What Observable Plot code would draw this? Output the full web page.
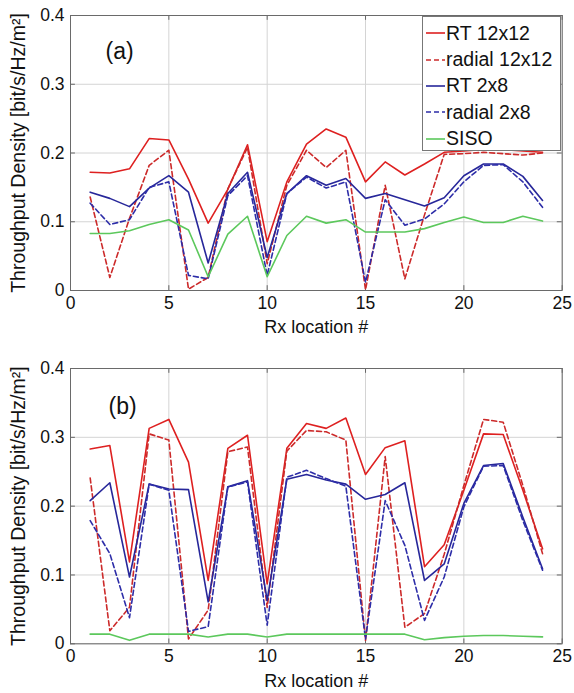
<!DOCTYPE html>
<html>
<head>
<meta charset="utf-8">
<script src="https://cdn.jsdelivr.net/npm/d3@7"></script>
<script src="https://cdn.jsdelivr.net/npm/@observablehq/plot@0.6"></script>
<style>
  body { margin: 0; background: #fff; font-family: "Liberation Sans", Arial, sans-serif; }
  #wrap { position: relative; width: 574px; height: 693px; overflow: hidden; }
  #wrap svg { display: block; }
  .legend { position: absolute; left: 422px; top: 16px; width: 139px; height: 135px;
            border: 1px solid #777; background: #fff; box-sizing: border-box; padding-top: 3px; }
  .row { height: 26.4px; display: flex; align-items: center; font-size: 19.5px; color: #111; white-space: nowrap; }
  .row svg { margin-left: 2px; margin-right: 1px; }
</style>
</head>
<body>
<div id="wrap"></div>
<script>
// ---------------- data ----------------
const xs = [1,2,3,4,5,6,7,8,9,10,11,12,13,14,15,16,17,18,19,20,21,22,23,24];
const seriesNames = ["RT 12x12", "radial 12x12", "RT 2x8", "radial 2x8", "SISO"];

// panel (a)
const rt12a  = [0.172,0.171,0.177,0.221,0.219,0.162,0.098,0.147,0.212,0.071,0.158,0.213,0.235,0.223,0.158,0.187,0.168,0.184,0.201,0.203,0.205,0.205,0.203,0.201];
const rad12a = [0.136,0.019,0.105,0.182,0.204,0.002,0.019,0.148,0.208,0.039,0.153,0.204,0.179,0.204,0.001,0.153,0.017,0.110,0.198,0.199,0.201,0.199,0.197,0.200];
const rt2a   = [0.143,0.134,0.122,0.149,0.167,0.143,0.040,0.141,0.172,0.048,0.141,0.167,0.153,0.163,0.134,0.141,0.132,0.123,0.135,0.167,0.184,0.184,0.166,0.131];
const rad2a  = [0.127,0.096,0.103,0.150,0.158,0.022,0.017,0.138,0.167,0.022,0.141,0.165,0.149,0.158,0.012,0.132,0.095,0.104,0.126,0.158,0.182,0.183,0.158,0.121];
const sisoa  = [0.083,0.083,0.087,0.096,0.103,0.088,0.020,0.082,0.108,0.020,0.080,0.108,0.098,0.103,0.085,0.085,0.085,0.090,0.099,0.107,0.099,0.099,0.108,0.101];

// panel (b)
const rt12b  = [0.283,0.288,0.119,0.313,0.326,0.264,0.092,0.284,0.303,0.087,0.284,0.320,0.313,0.328,0.246,0.285,0.295,0.112,0.144,0.223,0.305,0.304,0.223,0.138];
const rad12b = [0.241,0.019,0.053,0.305,0.296,0.007,0.049,0.279,0.286,0.053,0.280,0.310,0.308,0.296,0.005,0.272,0.024,0.044,0.130,0.230,0.326,0.322,0.230,0.131];
const rt2b   = [0.208,0.234,0.097,0.232,0.225,0.224,0.061,0.228,0.237,0.063,0.239,0.246,0.238,0.232,0.210,0.217,0.234,0.092,0.116,0.204,0.259,0.262,0.184,0.109];
const rad2b  = [0.179,0.131,0.038,0.232,0.223,0.018,0.025,0.228,0.235,0.027,0.242,0.252,0.240,0.229,0.007,0.208,0.143,0.034,0.097,0.199,0.258,0.259,0.179,0.107];
const sisob  = [0.014,0.014,0.005,0.014,0.014,0.014,0.010,0.014,0.014,0.010,0.014,0.014,0.014,0.014,0.014,0.014,0.014,0.006,0.009,0.011,0.012,0.012,0.011,0.010];

const xTicks = [0,5,10,15,20,25];
const yTicks = [0,0.1,0.2,0.3,0.4];
const xLabel = "Rx location #";
const yLabel = "Throughput Density [bit/s/Hz/m²]";
const panelLabels = [{t: "(a)", x: 2.5, y: 0.348}, {t: "(b)", x: 2.65, y: 0.345}];

// ---------------- styles ----------------
const seriesColors = ["#de2020", "#cc2a2a", "#27279a", "#2d2da8", "#5cc85c"];
const seriesDash   = [null, "5,3", null, "5,3", null];
const FONT = "'Liberation Sans', Arial, sans-serif";

function panel(vals, lab, height, marginBottom) {
  const data = [];
  seriesNames.forEach((name, k) => vals[k].forEach((v, i) => data.push({x: xs[i], y: v, s: name})));
  return Plot.plot({
    width: 574, height, marginLeft: 70, marginRight: 12.3, marginTop: 15, marginBottom,
    x: {domain: [0, 25]},
    y: {domain: [0, 0.4]},
    style: {fontFamily: FONT, fontSize: "17px", color: "#111", background: "#fff", overflow: "visible"},
    marks: [
      Plot.gridX(xTicks, {stroke: "#d4d4d4", strokeOpacity: 1}),
      Plot.gridY(yTicks, {stroke: "#d4d4d4", strokeOpacity: 1}),
      Plot.ruleX(xTicks, {y1: 0, y2: 0.007, stroke: "#666"}),
      Plot.ruleX(xTicks, {y1: 0.393, y2: 0.4, stroke: "#666"}),
      Plot.ruleY(yTicks, {x1: 0, x2: 0.25, stroke: "#666"}),
      Plot.ruleY(yTicks, {x1: 24.75, x2: 25, stroke: "#666"}),
      Plot.axisX({ticks: xTicks, tickSize: 0, tickPadding: 6, fontSize: 17.5, label: null}),
      Plot.axisY({ticks: yTicks, tickSize: 0, tickPadding: 6, fontSize: 17.5, label: null,
                  tickFormat: d => d === 0 ? "0" : String(d)}),
      ...seriesNames.map((name, k) => Plot.line(data.filter(d => d.s === name), {
        x: "x", y: "y", stroke: seriesColors[k], strokeWidth: 1.6,
        strokeDasharray: seriesDash[k] || undefined
      })),
      Plot.frame({stroke: "#6a6a6a"}),
      Plot.text([lab], {x: "x", y: "y", text: "t", fontSize: 23}),
      Plot.text([xLabel], {frameAnchor: "bottom", lineAnchor: "middle", dy: 37, fontSize: 18}),
      Plot.text([yLabel], {frameAnchor: "left", textAnchor: "middle", lineAnchor: "middle", rotate: -90, dx: -52, fontSize: 19.5})
    ]
  });
}

const wrap = document.getElementById("wrap");
wrap.appendChild(panel([rt12a, rad12a, rt2a, rad2a, sisoa], panelLabels[0], 353, 63));
wrap.appendChild(panel([rt12b, rad12b, rt2b, rad2b, sisob], panelLabels[1], 340, 49.7));

// legend (overlaid inside panel a, as in the original)
const leg = document.createElement("div");
leg.className = "legend";
seriesNames.forEach((name, k) => {
  const row = document.createElement("div");
  row.className = "row";
  const dash = seriesDash[k] ? `stroke-dasharray="${seriesDash[k]}"` : "";
  row.innerHTML = `<svg width="20" height="10"><line x1="1" y1="5" x2="20" y2="5" stroke="${seriesColors[k]}" stroke-width="1.6" ${dash}/></svg><span>${name}</span>`;
  leg.appendChild(row);
});
wrap.appendChild(leg);
</script>
</body>
</html>
